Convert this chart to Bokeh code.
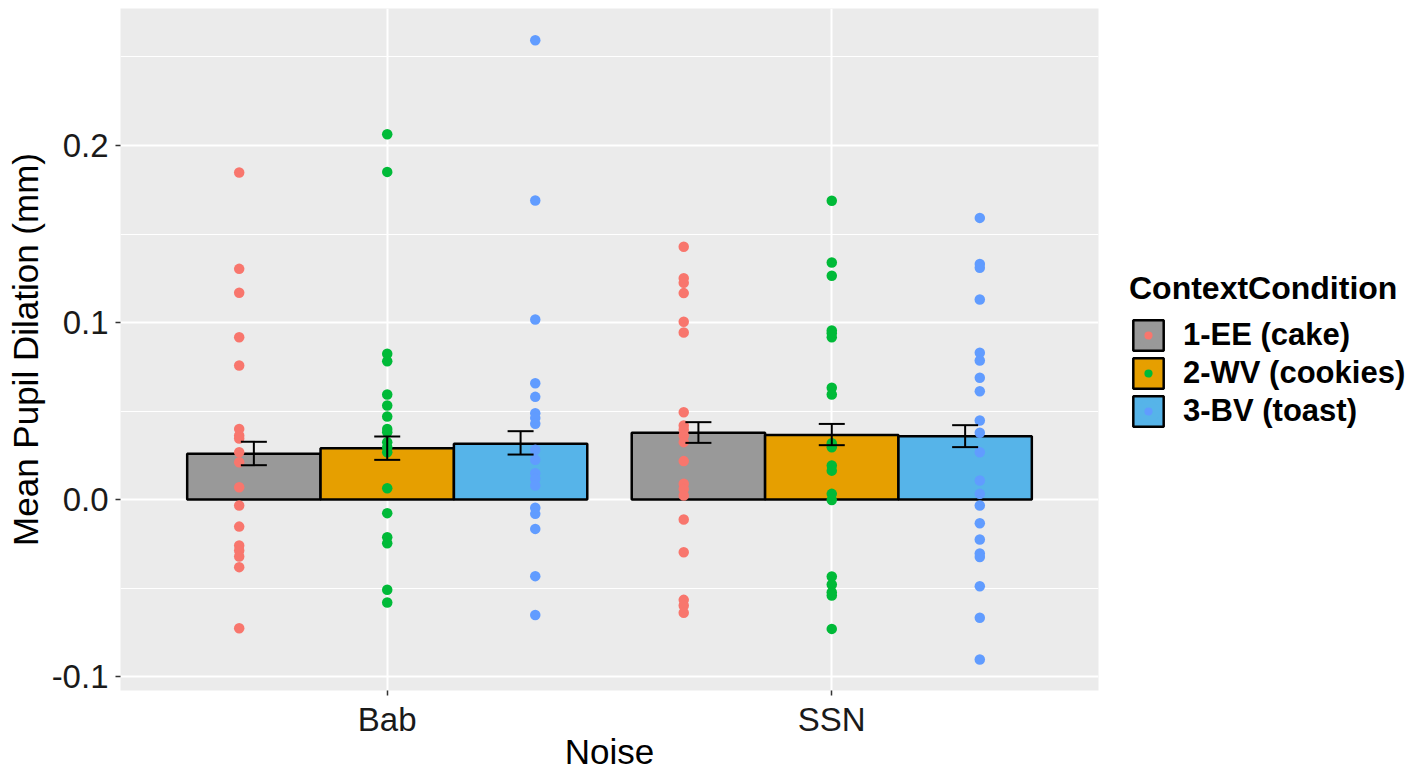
from bokeh.plotting import figure
from bokeh.models import (ColumnDataSource, FixedTicker, PrintfTickFormatter, Range1d,
                          Legend, LegendItem, Whisker, TeeHead)
from bokeh.embed import file_html
from bokeh.resources import INLINE

FONT = "Liberation Sans"

noise_levels = ["Bab", "SSN"]
conditions = ["1-EE (cake)", "2-WV (cookies)", "3-BV (toast)"]
bar_colors = ["#999999", "#E69F00", "#56B4E9"]
point_colors = ["#F8766D", "#00BA38", "#619CFF"]

# bar means per condition (Bab, SSN)
mean_ee = [0.0258, 0.0377]
mean_wv = [0.0290, 0.0365]
mean_bv = [0.0315, 0.0358]
# error bar limits per condition (Bab, SSN)
lower_ee = [0.0194, 0.0320]
upper_ee = [0.0326, 0.0437]
lower_wv = [0.0224, 0.0307]
upper_wv = [0.0356, 0.0427]
lower_bv = [0.0254, 0.0296]
upper_bv = [0.0386, 0.0420]

# individual participant points
bab_ee = [0.1847, 0.1303, 0.1168, 0.0917, 0.0757, 0.0399, 0.0362, 0.0345, 0.0267,
          0.0211, 0.0069, -0.0034, -0.0153, -0.0260, -0.0288, -0.0322, -0.0382, -0.0727]
bab_wv = [0.2064, 0.1851, 0.0823, 0.0781, 0.0593, 0.0531, 0.0469, 0.0399, 0.0380,
          0.0324, 0.0295, 0.0267, 0.0064, -0.0077, -0.0213, -0.0247, -0.0510, -0.0582]
bab_bv = [0.2595, 0.1689, 0.1017, 0.0657, 0.0580, 0.0488, 0.0461, 0.0428, 0.0281,
          0.0224, 0.0149, 0.0117, 0.0079, -0.0047, -0.0081, -0.0166, -0.0433, -0.0652]
ssn_ee = [0.1428, 0.1250, 0.1224, 0.1166, 0.1004, 0.0944, 0.0493, 0.0418, 0.0394,
          0.0362, 0.0324, 0.0217, 0.0089, 0.0060, 0.0023, -0.0113, -0.0298, -0.0567,
          -0.0599, -0.0640]
ssn_wv = [0.1688, 0.1339, 0.1264, 0.0955, 0.0940, 0.0917, 0.0631, 0.0593, 0.0318,
          0.0295, 0.0192, 0.0163, 0.0032, -0.0003, -0.0435, -0.0480, -0.0524, -0.0542,
          -0.0731]
ssn_bv = [0.1591, 0.1331, 0.1309, 0.1130, 0.0829, 0.0785, 0.0688, 0.0612, 0.0446,
          0.0377, 0.0267, 0.0107, 0.0032, -0.0034, -0.0134, -0.0226, -0.0305, -0.0325,
          -0.0490, -0.0668, -0.0904]

y_ticks = [-0.1, 0.0, 0.1, 0.2]
y_minor = [-0.05, 0.05, 0.15, 0.25]

means = [mean_ee, mean_wv, mean_bv]
lowers = [lower_ee, lower_wv, lower_bv]
uppers = [upper_ee, upper_wv, upper_bv]
points = [[bab_ee, ssn_ee], [bab_wv, ssn_wv], [bab_bv, ssn_bv]]

bar_width = 0.3
bar_offsets = [-0.3, 0.0, 0.3]
point_offsets = [-0.333, 0.0, 0.333]

p = figure(frame_width=978, frame_height=682, x_range=Range1d(0.4, 2.6),
           y_range=Range1d(-0.1079, 0.2774), output_backend="svg",
           toolbar_location=None, min_border_left=120, min_border_right=311,
           min_border_top=8, min_border_bottom=0)
p.background_fill_color = "#EBEBEB"
p.border_fill_color = "white"
p.outline_line_color = None

p.xaxis.ticker = FixedTicker(ticks=[1, 2])
p.xaxis.major_label_overrides = {1: noise_levels[0], 2: noise_levels[1]}
p.yaxis.ticker = FixedTicker(ticks=y_ticks, minor_ticks=y_minor)
p.yaxis.formatter = PrintfTickFormatter(format="%.1f")

p.xgrid.grid_line_color = "white"
p.xgrid.grid_line_width = 2
p.ygrid.grid_line_color = "white"
p.ygrid.grid_line_width = 2
p.ygrid.minor_grid_line_color = "white"
p.ygrid.minor_grid_line_width = 1

for ax in (p.xaxis[0], p.yaxis[0]):
    ax.axis_line_color = None
    ax.major_tick_line_color = "#333333"
    ax.major_tick_line_width = 1.5
    ax.major_tick_out = 5
    ax.major_tick_in = 0
    ax.minor_tick_line_color = None
    ax.major_label_text_font = FONT
    ax.major_label_text_color = "#1a1a1a"
    ax.major_label_text_font_size = "33px"
    ax.axis_label_text_font = FONT
    ax.axis_label_text_font_style = "normal"
    ax.axis_label_text_color = "black"
    ax.axis_label_text_font_size = "35px"

p.xaxis.axis_label = "Noise"
p.yaxis.axis_label = "Mean Pupil Dilation (mm)"
p.xaxis.major_label_standoff = 5
p.yaxis.major_label_standoff = 7
p.xaxis.axis_label_standoff = -9
p.yaxis.axis_label_standoff = 4

items = []
for i, cond in enumerate(conditions):
    xs = [k + 1 + bar_offsets[i] for k in range(len(noise_levels))]
    src = ColumnDataSource(dict(x=xs, top=means[i]))
    bar_r = p.vbar(x="x", top="top", bottom=0, width=bar_width, source=src,
                   fill_color=bar_colors[i], line_color="black", line_width=2.5)
    for k in range(len(noise_levels)):
        vals = points[i][k]
        px = [k + 1 + point_offsets[i]] * len(vals)
        p.scatter(x=px, y=vals, size=10.5, fill_color=point_colors[i],
                  line_color=None)
    # legend-only proxy (NaN: not drawn in the plot): small dot, ring in bar colour
    key_dot = p.scatter(x=[float("nan")], y=[float("nan")], size=10,
                        fill_color=point_colors[i], line_color=bar_colors[i],
                        line_width=7)
    items.append(LegendItem(label=cond, renderers=[bar_r, key_dot]))

for i in range(len(conditions)):
    xs = [k + 1 + bar_offsets[i] for k in range(len(noise_levels))]
    src = ColumnDataSource(dict(x=xs, lower=lowers[i], upper=uppers[i]))
    w = Whisker(source=src, base="x", lower="lower", upper="upper",
                dimension="height", line_color="black", line_width=2,
                upper_head=TeeHead(size=26, line_color="black", line_width=2),
                lower_head=TeeHead(size=26, line_color="black", line_width=2),
                level="overlay")
    p.add_layout(w)

legend = Legend(items=items, title="ContextCondition", location=(31, 260),
                orientation="vertical")
legend.title_text_font = FONT
legend.title_text_font_size = "32px"
legend.title_text_font_style = "bold"
legend.title_text_color = "black"
legend.title_standoff = 9
legend.label_text_font = FONT
legend.label_text_font_size = "31px"
legend.label_text_font_style = "bold"
legend.label_text_color = "black"
legend.glyph_width = 38
legend.glyph_height = 38
legend.label_height = 34
legend.label_standoff = 16
legend.spacing = -6
legend.padding = 0
legend.margin = 0
legend.border_line_color = None
legend.background_fill_alpha = 0
p.add_layout(legend, "right")

open("out.html", "w").write(file_html(p, INLINE))
